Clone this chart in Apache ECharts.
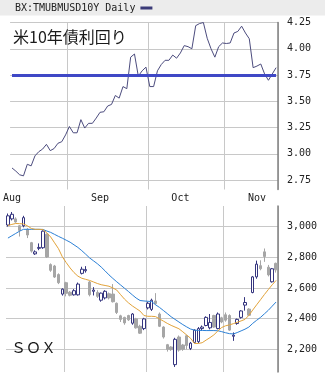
<!DOCTYPE html>
<html><head><meta charset="utf-8">
<script src="https://cdn.jsdelivr.net/npm/echarts@6/dist/echarts.min.js"></script>
<style>html,body{margin:0;padding:0;background:#fff}#c{width:327px;height:378px}</style>
</head><body><div id="c"></div>
<script>
const categories = ['08/11','08/12','08/15','08/16','08/17','08/18','08/19','08/22','08/23','08/24','08/25','08/26','08/29','08/30','08/31',
'09/01','09/02','09/06','09/07','09/08','09/09','09/12','09/13','09/14','09/15','09/16','09/19','09/20','09/21','09/22','09/23','09/26','09/27','09/28','09/29','09/30',
'10/03','10/04','10/05','10/06','10/07','10/10','10/11','10/12','10/13','10/14','10/17','10/18','10/19','10/20','10/21','10/24','10/25','10/26','10/27','10/28','10/31',
'11/01','11/02','11/03','11/04','11/07','11/08','11/09','11/10','11/11','11/14','11/15','11/16','11/17'];

const yield10y = [2.865,2.835,2.80,2.79,2.90,2.885,2.98,3.02,3.045,3.09,
3.03,3.05,3.10,3.115,3.18,3.26,3.20,3.20,3.325,3.245,
3.29,3.29,3.34,3.395,3.40,3.455,3.47,3.555,3.53,3.64,
3.62,3.92,3.95,3.74,3.79,3.825,3.64,3.64,3.79,3.85,
3.89,3.89,3.94,3.91,3.96,4.03,4.02,4.00,4.22,4.24,
4.25,4.10,4.00,3.92,4.02,4.055,4.05,4.055,4.15,4.165,
4.215,4.15,4.095,3.82,3.835,3.855,3.76,3.70,3.76,3.82];

const soxOpen = [3010,3050,3050,3005,3005,2982,2895,2822,2858,2862,
2950,2752,2743,2687,2560,2634,2572,2555,2555,2695,
2712,2638,2578,2570,2520,2535,2562,2560,2500,2418,
2408,2420,2370,2398,2350,2335,2470,2460,2515,2430,
2345,2230,2215,2100,2280,2228,2288,2205,2245,2250,
2335,2355,2340,2420,2335,2405,2425,2420,2285,2368,
2408,2488,2462,2570,2672,2745,2835,2735,2640,2760];
const soxClose = [3070,3080,3030,2975,3058,2945,2840,2835,2864,2970,
2802,2715,2671,2634,2592,2565,2552,2582,2625,2722,
2720,2556,2586,2545,2566,2578,2535,2510,2440,2395,
2372,2392,2430,2340,2305,2398,2500,2520,2498,2350,
2280,2200,2198,2265,2195,2200,2225,2240,2325,2335,
2345,2408,2375,2345,2430,2378,2390,2325,2292,2395,
2450,2505,2422,2672,2755,2725,2805,2685,2725,2718];
const soxLow = [3000,3040,3025,2935,2995,2925,2830,2815,2846,2855,
2795,2705,2665,2625,2550,2545,2545,2550,2550,2688,
2700,2545,2551,2535,2510,2525,2525,2505,2430,2378,
2360,2385,2360,2335,2300,2325,2460,2450,2490,2345,
2270,2185,2190,2085,2185,2190,2200,2195,2240,2240,
2320,2350,2330,2340,2330,2370,2380,2320,2255,2360,
2400,2452,2418,2565,2660,2715,2770,2675,2635,2700];
const soxHigh = [3085,3095,3060,3010,3070,2990,2900,2845,2890,2975,
2955,2760,2750,2695,2597,2640,2580,2592,2635,2738,
2742,2645,2605,2585,2570,2585,2570,2625,2505,2425,
2412,2425,2436,2405,2360,2405,2510,2530,2566,2440,
2350,2235,2220,2275,2290,2235,2295,2248,2330,2345,
2355,2415,2430,2425,2440,2412,2440,2428,2310,2400,
2455,2540,2468,2678,2778,2780,2857,2750,2730,2765];

const maShort = [3007,3014,3020,3019,3017,3005,2988,2982,2982,2981,
2959,2932,2894,2856,2803,2765,2730,2700,2677,2663,
2656,2649,2639,2629,2621,2616,2611,2600,2586,2556,
2527,2503,2483,2466,2449,2420,2415,2415,2413,2398,
2384,2369,2356,2345,2334,2314,2293,2272,2238,2238,
2243,2260,2276,2294,2319,2342,2353,2359,2367,2376,
2385,2395,2421,2456,2490,2523,2557,2589,2620,2649];
const maLong = [2925,2940,2955,2970,2982,2982,2982,2982,2982,2981,
2971,2962,2949,2936,2924,2911,2898,2881,2864,2843,
2820,2796,2777,2758,2736,2711,2685,2662,2640,2619,
2598,2577,2555,2534,2518,2515,2513,2511,2490,2473,
2453,2433,2412,2395,2378,2361,2346,2332,2325,2323,
2323,2322,2322,2322,2321,2315,2308,2302,2300,2309,
2320,2331,2345,2369,2389,2408,2431,2454,2481,2508];

const refLevel = 3.75;
const xSplitIdx = [15, 36, 56];
const xLabelIdx = [0, 23, 44, 64];
const xLabelText = ['Aug', 'Sep', 'Oct', 'Nov'];
const yTicksTop = [2.75, 3.00, 3.25, 3.50, 3.75, 4.00, 4.25];
const yTicksBottom = [2200, 2400, 2600, 2800, 3000];
const seriesName = 'BX:TMUBMUSD10Y Daily';

const mono = '"DejaVu Sans Mono", monospace';
const jp = '"Noto Sans CJK JP", sans-serif';
const gridColor = '#c8c8c8';

const candleData = soxOpen.map((o, i) => [o, soxClose[i], soxLow[i], soxHigh[i]]);

const option = {
  animation: false,
  backgroundColor: '#ffffff',
  graphic: [
    { type: 'rect', left: 0, top: 0, z: -10, silent: true,
      shape: { width: 325, height: 15.5 }, style: { fill: '#ececec' } }
  ],
  legend: {
    left: 15, top: 3, padding: 0, align: 'right', itemWidth: 12, itemHeight: 3,
    selectedMode: false,
    textStyle: { fontFamily: mono, fontSize: 10, color: '#222' },
    data: [{ name: seriesName, icon: 'rect', itemStyle: { color: '#3b3b78' } }]
  },
  title: [
    { text: '米10年債利回り', left: 13, top: 29, padding: 0,
      textStyle: { fontFamily: jp, fontSize: 16, fontWeight: 'normal', color: '#1a1a1a' } },
    { text: 'ＳＯＸ', left: 11, top: 340, padding: 0,
      textStyle: { fontFamily: jp, fontSize: 15, fontWeight: 'normal', color: '#1a1a1a' } }
  ],
  grid: [
    { left: 6, right: 49, top: 22.5, height: 167 },
    { left: 6, right: 49, top: 206, bottom: 6 }
  ],
  xAxis: [
    { type: 'category', gridIndex: 0, data: categories, boundaryGap: true,
      axisLine: { show: false }, axisTick: { show: false },
      axisLabel: { show: true, interval: (i) => xLabelIdx.includes(i),
        formatter: (v, i) => xLabelText[xLabelIdx.indexOf(i)] || '',
        fontFamily: mono, fontSize: 10, color: '#222', margin: 4 },
      splitLine: { show: true, interval: (i) => xSplitIdx.includes(i),
        lineStyle: { color: gridColor, width: 1 } } },
    { type: 'category', gridIndex: 1, data: categories, boundaryGap: true,
      axisLine: { show: false }, axisTick: { show: false }, axisLabel: { show: false },
      splitLine: { show: true, interval: (i) => xSplitIdx.includes(i),
        lineStyle: { color: gridColor, width: 1 } } }
  ],
  yAxis: [
    { type: 'value', gridIndex: 0, position: 'right', min: 2.66, max: 4.25,
      axisLine: { show: true, lineStyle: { color: '#808080', width: 1.5 } },
      axisTick: { show: false, customValues: yTicksTop },
      axisLabel: { customValues: yTicksTop, formatter: (v) => v.toFixed(2),
        fontFamily: mono, fontSize: 10, color: '#222', margin: 9 },
      splitLine: { show: true, lineStyle: { color: gridColor, width: 1 } } },
    { type: 'value', gridIndex: 1, position: 'right', min: 2052, max: 3134,
      axisLine: { show: true, lineStyle: { color: '#808080', width: 1.5 } },
      axisTick: { show: false, customValues: yTicksBottom },
      axisLabel: { customValues: yTicksBottom, formatter: (v) => v.toLocaleString('en-US'),
        fontFamily: mono, fontSize: 10, color: '#222', margin: 9 },
      splitLine: { show: true, lineStyle: { color: gridColor, width: 1 } } }
  ],
  series: [
    { name: seriesName, type: 'line', xAxisIndex: 0, yAxisIndex: 0, data: yield10y,
      symbol: 'none', lineStyle: { color: '#4c4c7e', width: 1 }, itemStyle: { color: '#4c4c7e' },
      markLine: { silent: true, symbol: ['none', 'none'], label: { show: false },
        lineStyle: { color: '#3f48c6', width: 3, type: 'solid' },
        data: [[{ coord: [categories[0], refLevel] }, { coord: [categories[categories.length - 1], refLevel] }]] } },
    { name: 'SOX', type: 'candlestick', xAxisIndex: 1, yAxisIndex: 1, data: candleData,
      barWidth: 3,
      itemStyle: { color: '#ffffff', color0: '#a6a6a6', borderColor: '#35357f', borderColor0: '#a6a6a6', borderWidth: 1 } },
    { name: 'MA long', type: 'line', xAxisIndex: 1, yAxisIndex: 1, data: maLong,
      symbol: 'none', lineStyle: { color: '#2b80d6', width: 1 } },
    { name: 'MA short', type: 'line', xAxisIndex: 1, yAxisIndex: 1, data: maShort,
      symbol: 'none', lineStyle: { color: '#e2a33a', width: 1 } }
  ]
};

const chart = echarts.init(document.getElementById('c'), null, { renderer: 'canvas' });
chart.setOption(option);
</script></body></html>
